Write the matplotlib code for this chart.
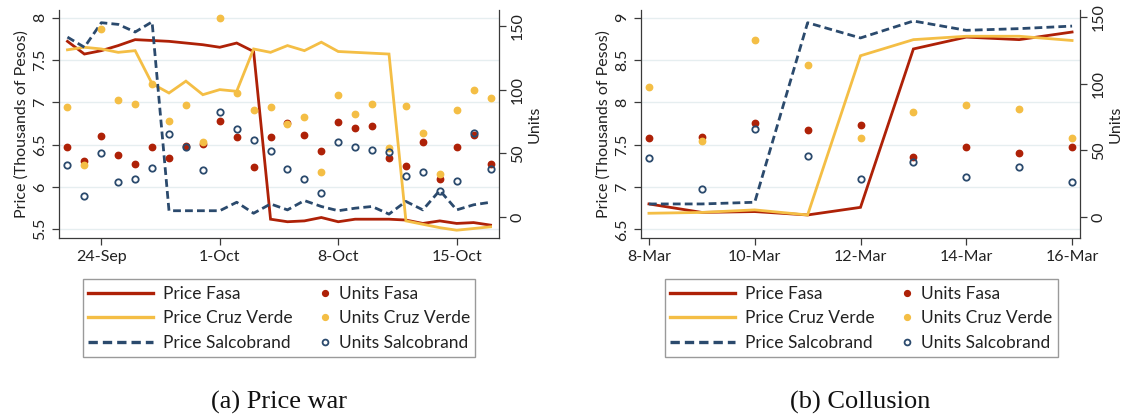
import matplotlib
matplotlib.use("Agg")
import matplotlib.pyplot as plt
from matplotlib.lines import Line2D
from matplotlib.patches import Rectangle

# ---------------- data: (a) Price war ----------------
war_days = list(range(26))  # 22-Sep ... 17-Oct
war_tick_pos = [2, 9, 16, 23]
war_tick_labels = ["24-Sep", "1-Oct", "8-Oct", "15-Oct"]

war_price_fasa = [7.72, 7.57, 7.61, 7.67, 7.74, 7.73, 7.72, 7.70, 7.68, 7.65, 7.70, 7.60, 5.62,
                  5.59, 5.60, 5.64, 5.59, 5.62, 5.62, 5.62, 5.61, 5.57, 5.60, 5.57, 5.58, 5.55]
war_price_cruz = [7.62, 7.65, 7.63, 7.59, 7.61, 7.22, 7.11, 7.25, 7.09, 7.15, 7.13, 7.63, 7.59,
                  7.67, 7.61, 7.71, 7.60, 7.59, 7.58, 7.57, 5.60, 5.56, 5.52, 5.49, 5.51, 5.53]
war_price_salco = [7.77, 7.65, 7.94, 7.92, 7.83, 7.95, 5.72, 5.72, 5.72, 5.72, 5.82, 5.69, 5.80,
                   5.73, 5.84, 5.77, 5.72, 5.75, 5.77, 5.68, 5.83, 5.73, 5.96, 5.73, 5.79, 5.82]

war_units_fasa = [54.7, 44.0, 63.6, 48.7, 41.6, 54.7, 46.6, 56.0, 57.6, 75.7, 62.8, 39.5, 62.8,
                  73.6, 64.7, 51.8, 74.6, 69.6, 71.5, 46.6, 39.8, 58.9, 29.6, 54.7, 64.7, 41.9]
war_units_cruz = [86.6, 40.8, 147.4, 91.6, 88.5, 104.5, 75.7, 87.7, 58.6, 156.5, 97.6, 84.0, 86.6,
                  72.8, 78.8, 35.6, 95.5, 80.6, 88.5, 53.9, 87.4, 65.7, 33.5, 83.8, 99.5, 93.7]
war_units_salco = [40.8, 16.8, 50.5, 27.7, 29.8, 38.7, 64.9, 54.7, 36.9, 82.7, 68.8, 60.5, 52.0,
                   37.7, 29.8, 18.8, 58.9, 54.7, 52.9, 50.8, 31.9, 35.1, 20.4, 28.0, 65.7, 38.0]

# ---------------- data: (b) Collusion ----------------
col_days = list(range(9))  # 8-Mar ... 16-Mar
col_tick_pos = [0, 2, 4, 6, 8]
col_tick_labels = ["8-Mar", "10-Mar", "12-Mar", "14-Mar", "16-Mar"]

col_price_fasa = [6.80, 6.70, 6.71, 6.67, 6.76, 8.63, 8.77, 8.74, 8.83]
col_price_cruz = [6.69, 6.70, 6.73, 6.67, 8.55, 8.74, 8.78, 8.78, 8.73]
col_price_salco = [6.80, 6.80, 6.82, 8.94, 8.76, 8.96, 8.85, 8.87, 8.90]

col_units_fasa = [59.0, 60.3, 70.3, 65.0, 69.0, 45.0, 52.8, 48.0, 52.8]
col_units_cruz = [97.8, 56.8, 132.5, 113.8, 59.0, 78.8, 83.8, 80.8, 59.0]
col_units_salco = [44.0, 21.3, 65.8, 46.0, 28.3, 41.0, 30.3, 37.3, 26.3]

legend_labels = ["Price Fasa", "Price Cruz Verde", "Price Salcobrand",
                 "Units Fasa", "Units Cruz Verde", "Units Salcobrand"]
captions = ["(a) Price war", "(b) Collusion"]

# ---------------- style ----------------
RED = "#AE2107"
YEL = "#F4BE45"
NAVY = "#2B4A6D"
GRID = "#E6EEF0"
SPINE = "#3a3a3a"
TXT = "#222222"
DASH = (0, (2.8, 1.5))
FONT = "Lato"

plt.rcParams["font.family"] = FONT

fig = plt.figure(figsize=(11.25, 4.18), dpi=100)
W, H = 1125.0, 418.0


def panel(left_px, right_px, days, pf, pc, ps, uf, uc, us, ticks, tlabels,
          xlim, pticks, plim, ulim, caption):
    ax = fig.add_axes([left_px / W, 1 - 238 / H, (right_px - left_px) / W, 228 / H])
    ax2 = ax.twinx()
    lw = 2.0
    ax.plot(days, pf, color=RED, lw=lw, solid_joinstyle="miter")
    ax.plot(days, pc, color=YEL, lw=lw, solid_joinstyle="miter")
    ax.plot(days, ps, color=NAVY, lw=lw, ls=DASH)
    ms = 4.6
    ax2.plot(days, uf, ls="none", marker="o", ms=ms, color=RED, mec=RED)
    ax2.plot(days, uc, ls="none", marker="o", ms=ms, color=YEL, mec=YEL)
    ax2.plot(days, us, ls="none", marker="o", ms=ms, mfc="none", mec=NAVY, mew=1.3)

    ax.set_xlim(*xlim)
    ax.set_ylim(*plim)
    ax2.set_ylim(*ulim)
    ax.set_xticks(ticks)
    ax.set_xticklabels(tlabels)
    ax.set_yticks(pticks)
    ax.set_yticklabels([("%g" % t) for t in pticks], rotation=90, va="center")
    ax2.set_yticks([0, 50, 100, 150])
    ax2.set_yticklabels(["0", "50", "100", "150"], rotation=90, va="center")
    ax.grid(axis="y", color=GRID, lw=1.0)
    ax.set_axisbelow(True)

    for a in (ax, ax2):
        for s in a.spines.values():
            s.set_color(SPINE)
            s.set_linewidth(0.9)
        a.spines["top"].set_visible(False)
    ax.spines["right"].set_visible(False)
    ax2.spines["left"].set_visible(False)
    ax2.spines["bottom"].set_visible(False)
    ax.tick_params(axis="both", colors=SPINE, labelcolor=TXT, labelsize=11.5,
                   length=5, width=0.9)
    ax2.tick_params(axis="y", colors=SPINE, labelcolor=TXT, labelsize=11.5,
                    length=5, width=0.9)
    ax.set_ylabel("Price (Thousands of Pesos)", fontsize=11.5, color=TXT, labelpad=3)
    ax2.set_ylabel("Units", fontsize=11.5, color=TXT, labelpad=2)

    # legend: two columns with a shared frame
    line_handles = [
        Line2D([], [], color=RED, lw=2.4),
        Line2D([], [], color=YEL, lw=2.4),
        Line2D([], [], color=NAVY, lw=2.4, ls=DASH),
    ]
    dot_handles = [
        Line2D([], [], ls="none", marker="o", ms=4.2, color=RED),
        Line2D([], [], ls="none", marker="o", ms=4.2, color=YEL),
        Line2D([], [], ls="none", marker="o", ms=4.2, mfc="none", mec=NAVY, mew=1.3),
    ]
    box_left = left_px + 23.5
    common = dict(loc="upper left", fontsize=12.5, frameon=False, borderpad=0,
                  borderaxespad=0, labelspacing=0.48, labelcolor=TXT)
    fig.legend(line_handles, legend_labels[:3],
               bbox_to_anchor=((box_left + 5) / W, 1 - 286 / H),
               handlelength=3.75, handletextpad=0.62, **common)
    fig.legend(dot_handles, legend_labels[3:],
               bbox_to_anchor=((box_left + 237) / W, 1 - 286 / H),
               handlelength=0.6, handletextpad=0.52, **common)
    fig.add_artist(Rectangle((box_left / W, 1 - 357 / H), 393 / W, 78 / H,
                             transform=fig.transFigure, fill=False,
                             edgecolor="#9a9a9a", lw=1.0))

    cx = (left_px + right_px) / 2 / W
    fig.text(cx, 1 - 402 / H, caption, ha="center", va="center",
             fontsize=19, family="Liberation Serif", color="#111111")
    return ax, ax2


panel(59, 499, war_days, war_price_fasa, war_price_cruz, war_price_salco,
      war_units_fasa, war_units_cruz, war_units_salco, war_tick_pos, war_tick_labels,
      (-0.5, 25.5), [5.5, 6, 6.5, 7, 7.5, 8], (5.398, 8.09), (-16.5, 162.6), captions[0])
panel(641, 1080, col_days, col_price_fasa, col_price_cruz, col_price_salco,
      col_units_fasa, col_units_cruz, col_units_salco, col_tick_pos, col_tick_labels,
      (-0.15, 8.15), [6.5, 7, 7.5, 8, 8.5, 9], (6.398, 9.09), (-15.75, 155.3), captions[1])

fig.savefig("out.png", dpi=100)
